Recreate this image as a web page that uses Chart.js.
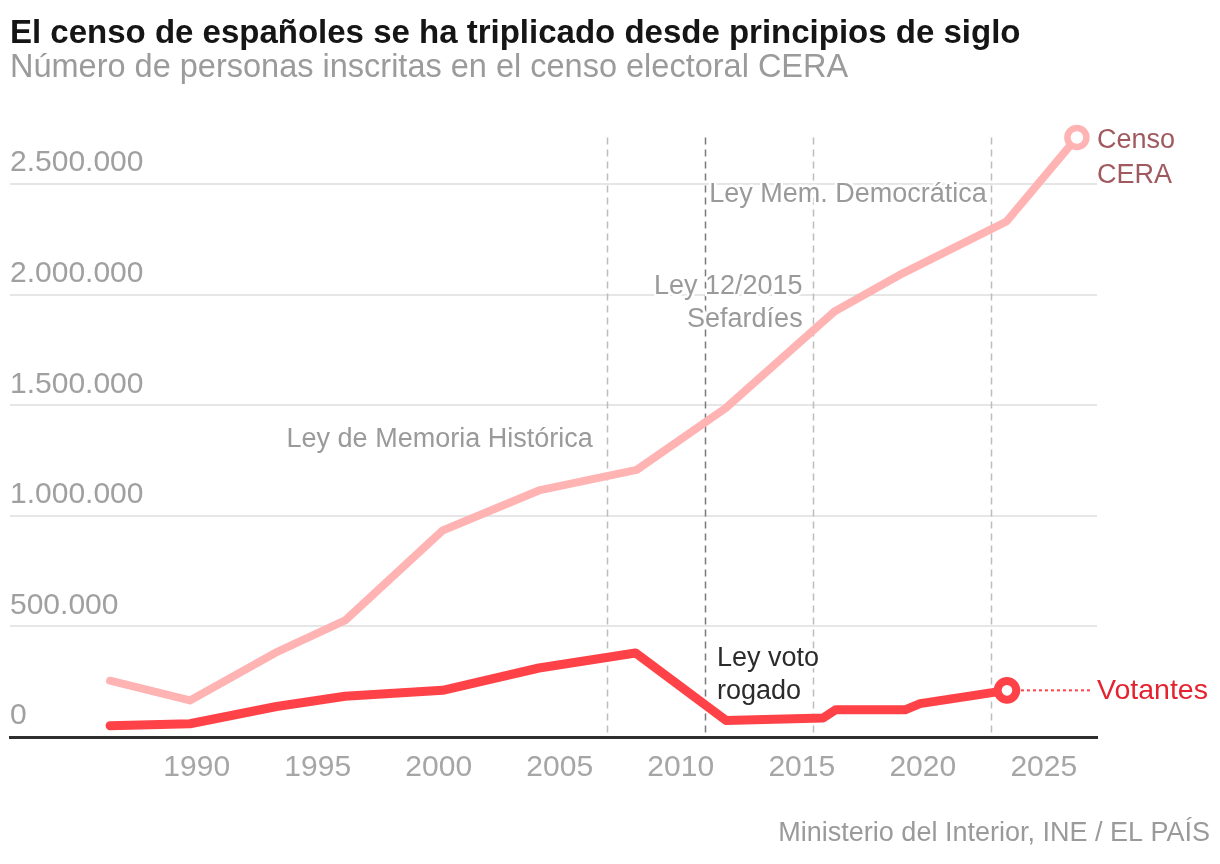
<!DOCTYPE html>
<html lang="es">
<head>
<meta charset="utf-8">
<title>Censo CERA</title>
<script src="https://cdn.jsdelivr.net/npm/chart.js@4.4.1/dist/chart.umd.min.js"></script>
<style>
  html, body { margin: 0; padding: 0; background: #fff; }
  #wrap { width: 1220px; height: 864px; }
</style>
</head>
<body>
<div id="wrap"><canvas id="censoChart"></canvas></div>
<script>
// Censo CERA y votantes CERA (fechas como año decimal)
const censoYears = [1986.42, 1989.72, 1993.24, 1996.13, 2000.16, 2004.14, 2008.18, 2011.85, 2016.35, 2019.19, 2023.46, 2026.37];
const censoValues = [254500, 165500, 380000, 527000, 934000, 1115000, 1208000, 1487000, 1924000, 2098000, 2331000, 2711000];

const votantesYears = [1986.42, 1989.72, 1993.3, 1996.13, 2000.16, 2004.14, 2008.13, 2011.87, 2015.88, 2016.4, 2019.27, 2019.89, 2023.48];
const votantesValues = [51000, 60000, 138000, 184000, 211000, 312000, 380000, 75000, 86000, 123000, 123000, 151000, 211000];

// ejes
const xTickYears = [1990, 1995, 2000, 2005, 2010, 2015, 2020, 2025];
const yTickValues = [0, 500000, 1000000, 1500000, 2000000, 2500000];

// leyes (líneas verticales)
const leyYears = [2006.94, 2011.0, 2015.45, 2022.81];
const leyLabels = [
    ['Ley de Memoria Histórica'],
    ['Ley voto', 'rogado'],
    ['Ley 12/2015', 'Sefardíes'],
    ['Ley Mem. Democrática']
];
// posición del texto: valor del eje Y donde va la primera línea
const leyLabelValues = [1344000, 357000, 2037000, 2451600];

const FONT = "'Liberation Sans', Arial, sans-serif";
const PINK = '#ffb3b3';
const RED = '#ff4248';

// estilo de cada anotación
const leyStyles = [
    { line: '#bdbdbd', text: '#9a9a9a', align: 'right', dx: -14 },
    { line: '#7a7a7a', text: '#2b2b2b', align: 'left', dx: 12 },
    { line: '#bdbdbd', text: '#9a9a9a', align: 'right', dx: -10 },
    { line: '#bdbdbd', text: '#9a9a9a', align: 'right', dx: -4 }
];

function fmtMiles(v) {
    return String(v).replace(/\B(?=(\d{3})+(?!\d))/g, '.');
}

const toPoints = (xs, ys) => xs.map((x, i) => ({ x: x, y: ys[i] }));

// líneas discontinuas y textos de las leyes
const leyesPlugin = {
    id: 'leyes',
    beforeDatasetsDraw(chart) {
        const { ctx, chartArea, scales: { x, y } } = chart;
        ctx.save();
        leyYears.forEach((yr, i) => {
            const px = Math.round(x.getPixelForValue(yr)) + 0.5;
            ctx.beginPath();
            ctx.setLineDash([7, 5]);
            ctx.lineWidth = 1.5;
            ctx.strokeStyle = leyStyles[i].line;
            ctx.moveTo(px, chartArea.top);
            ctx.lineTo(px, chartArea.bottom);
            ctx.stroke();
        });
        ctx.setLineDash([]);
        ctx.font = '27px ' + FONT;
        ctx.textBaseline = 'middle';
        leyYears.forEach((yr, i) => {
            const st = leyStyles[i];
            const px = x.getPixelForValue(yr) + st.dx;
            const py = y.getPixelForValue(leyLabelValues[i]);
            ctx.textAlign = st.align;
            leyLabels[i].forEach((txt, j) => {
                const ty = py + j * 33;
                ctx.lineWidth = 5;
                ctx.strokeStyle = '#ffffff';
                ctx.lineJoin = 'round';
                ctx.strokeText(txt, px, ty);
                ctx.fillStyle = st.text;
                ctx.fillText(txt, px, ty);
            });
        });
        ctx.restore();
    },
    afterDatasetsDraw(chart) {
        const { ctx, chartArea } = chart;
        const pinkEnd = chart.getDatasetMeta(0).data[censoValues.length - 1];
        const redEnd = chart.getDatasetMeta(1).data[votantesValues.length - 1];
        ctx.save();
        // línea punteada hacia "Votantes"
        ctx.beginPath();
        ctx.setLineDash([3, 3]);
        ctx.lineWidth = 2;
        ctx.strokeStyle = RED;
        ctx.moveTo(redEnd.x + 14, redEnd.y);
        ctx.lineTo(chartArea.right - 6, redEnd.y);
        ctx.stroke();
        ctx.setLineDash([]);

        ctx.textAlign = 'left';
        ctx.textBaseline = 'middle';
        ctx.font = '27px ' + FONT;
        ctx.fillStyle = '#a05a5f';
        ctx.fillText('Censo', chartArea.right, pinkEnd.y + 3);
        ctx.fillText('CERA', chartArea.right, pinkEnd.y + 38);
        ctx.font = '28.5px ' + FONT;
        ctx.fillStyle = '#e5232f';
        ctx.fillText('Votantes', chartArea.right, redEnd.y + 1);

        // fuente
        ctx.font = '27px ' + FONT;
        ctx.fillStyle = '#9a9a9a';
        ctx.textAlign = 'right';
        ctx.fillText('Ministerio del Interior, INE / EL PAÍS', 1210, 834);
        ctx.restore();
    }
};

const censoCanvas = document.getElementById('censoChart').getContext('2d');

new Chart(censoCanvas, {
    type: 'line',
    data: {
        datasets: [
            {
                label: 'Censo CERA',
                data: toPoints(censoYears, censoValues),
                borderColor: PINK,
                borderWidth: 8,
                borderCapStyle: 'round',
                borderJoinStyle: 'round',
                pointRadius: ctx => ctx.dataIndex === censoValues.length - 1 ? 9.5 : 0,
                pointHoverRadius: 0,
                pointBorderWidth: 6.5,
                pointBorderColor: PINK,
                pointBackgroundColor: '#ffffff',
                tension: 0,
                clip: false
            },
            {
                label: 'Votantes',
                data: toPoints(votantesYears, votantesValues),
                borderColor: RED,
                borderWidth: 9,
                borderCapStyle: 'round',
                borderJoinStyle: 'round',
                pointRadius: ctx => ctx.dataIndex === votantesValues.length - 1 ? 9.3 : 0,
                pointHoverRadius: 0,
                pointBorderWidth: 8,
                pointBorderColor: RED,
                pointBackgroundColor: '#ffffff',
                tension: 0,
                clip: false
            }
        ]
    },
    options: {
        responsive: true,
        maintainAspectRatio: false,
        animation: false,
        layout: {
            autoPadding: false,
            padding: { left: 10, right: 123, top: 0, bottom: 65 }
        },
        plugins: {
            legend: { display: false },
            tooltip: { enabled: false },
            title: {
                display: true,
                align: 'start',
                text: 'El censo de españoles se ha triplicado desde principios de siglo',
                color: '#151515',
                font: { family: FONT, size: 33, weight: 'bold', lineHeight: 1 },
                padding: { top: 17, bottom: 0 }
            },
            subtitle: {
                display: true,
                align: 'start',
                text: 'Número de personas inscritas en el censo electoral CERA',
                color: '#9b9b9b',
                font: { family: FONT, size: 32.5, lineHeight: 1 },
                padding: { top: 2, bottom: 53 }
            }
        },
        scales: {
            x: {
                type: 'linear',
                min: 1982.285,
                max: 2027.2,
                afterBuildTicks: scale => {
                    scale.ticks = xTickYears.map(v => ({ value: v }));
                },
                grid: { display: false, drawTicks: false },
                border: { display: true, color: '#2e2e2e', width: 3 },
                ticks: {
                    padding: 13,
                    color: '#a6a6a6',
                    font: { family: FONT, size: 30 },
                    callback: v => String(v)
                }
            },
            y: {
                min: 0,
                max: 2711000,
                afterBuildTicks: scale => {
                    scale.ticks = yTickValues.map(v => ({ value: v }));
                },
                afterFit: scale => {
                    scale.width = 0;
                },
                grid: {
                    color: ctx => (ctx.tick && ctx.tick.value === 0) ? 'rgba(0,0,0,0)' : '#e6e6e6',
                    lineWidth: 2,
                    drawTicks: false
                },
                border: { display: false },
                ticks: {
                    mirror: true,
                    padding: 0,
                    labelOffset: -21,
                    color: '#a0a0a0',
                    font: { family: FONT, size: 30 },
                    callback: v => fmtMiles(v)
                }
            }
        }
    },
    plugins: [leyesPlugin]
});
</script>
</body>
</html>
